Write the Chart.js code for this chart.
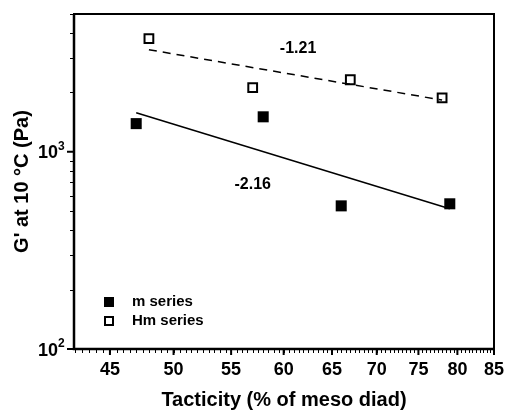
<!DOCTYPE html>
<html>
<head>
<meta charset="utf-8">
<script src="https://cdn.jsdelivr.net/npm/chart.js@4.4.1/dist/chart.umd.min.js"></script>
<style>
  body { margin: 0; background: #fff; }
  #wrap { width: 505px; height: 412px; }
</style>
</head>
<body>
<div id="wrap"><canvas id="modulus-chart"></canvas></div>
<script>
// storage modulus at 10 °C vs tacticity, two sample series
const mTacticity = [47, 58, 66, 79];
const mModulus = [1390, 1505, 532, 545];
const hmTacticity = [48, 57, 67, 78];
const hmModulus = [3750, 2115, 2320, 1880];

// power-law fits (log-log), end points
const mFitX = [47, 79];
const mFitY = [1578, 514];
const hmFitX = [48, 78];
const hmFitY = [3294, 1830];

// slope labels: [text, x, y]
const slopeLabels = [['-2.16', 57, 680], ['-1.21', 61.45, 3333]];

const xTicks = [45, 50, 55, 60, 65, 70, 75, 80, 85];
const yTicks = [100, 1000];
const yTickBase = ['10', '10'];
const yTickExp = ['2', '3'];
const yMinorTicks = [200, 300, 400, 500, 600, 700, 800, 900, 2000, 3000, 4000, 5000];

const FONT = "'Liberation Sans', Arial, sans-serif";
Chart.defaults.font.family = FONT;
Chart.defaults.font.weight = 'bold';
Chart.defaults.color = '#000';

const toPoints = (xs, ys) => xs.map((x, i) => ({ x: x, y: ys[i] }));

// frame, tick marks, power-of-ten labels, slope text and the inset legend
const decorations = {
  id: 'decorations',
  afterDraw(chart) {
    const ctx = chart.ctx;
    const a = chart.chartArea;
    const xs = chart.scales.x;
    const ys = chart.scales.y;
    ctx.save();
    ctx.strokeStyle = '#000';
    ctx.lineWidth = 2;
    ctx.strokeRect(a.left, a.top, a.right - a.left, a.bottom - a.top);
    ctx.lineWidth = 2.5;
    ctx.beginPath();
    ctx.moveTo(a.left, a.top);
    ctx.lineTo(a.left, a.bottom);
    ctx.lineTo(a.right, a.bottom);
    ctx.stroke();

    // x minor ticks every half unit
    ctx.lineWidth = 1;
    ctx.beginPath();
    for (let v = 42.5; v <= 85; v += 0.5) {
      const px = Math.round(xs.getPixelForValue(v)) + 0.5;
      ctx.moveTo(px, a.bottom);
      ctx.lineTo(px, a.bottom + 4);
    }
    yMinorTicks.forEach(v => {
      const py = Math.round(ys.getPixelForValue(v)) + 0.5;
      ctx.moveTo(a.left, py);
      ctx.lineTo(a.left - 4, py);
    });
    ctx.stroke();

    ctx.lineWidth = 2;
    ctx.beginPath();
    xTicks.forEach(v => {
      const px = xs.getPixelForValue(v);
      ctx.moveTo(px, a.bottom);
      ctx.lineTo(px, a.bottom + 6);
    });
    yTicks.forEach(v => {
      const py = ys.getPixelForValue(v);
      ctx.moveTo(a.left, py);
      ctx.lineTo(a.left - 7, py);
    });
    ctx.stroke();

    ctx.fillStyle = '#000';
    ctx.textBaseline = 'alphabetic';
    yTicks.forEach((v, i) => {
      const py = ys.getPixelForValue(v);
      ctx.textAlign = 'right';
      ctx.font = 'bold 18px ' + FONT;
      ctx.fillText(yTickBase[i], a.left - 16, py + 6.5);
      ctx.textAlign = 'left';
      ctx.font = 'bold 12px ' + FONT;
      ctx.fillText(yTickExp[i], a.left - 16, py - 2);
    });

    ctx.font = 'bold 16px ' + FONT;
    ctx.textAlign = 'center';
    ctx.textBaseline = 'middle';
    slopeLabels.forEach(([t, x, y]) => {
      ctx.fillText(t, xs.getPixelForValue(x), ys.getPixelForValue(y));
    });

    // legend
    const lx = a.left + 35;
    const ly = a.bottom - 47;
    ctx.fillRect(lx - 5, ly - 5, 10, 10);
    ctx.lineWidth = 2;
    ctx.strokeRect(lx - 4, ly + 15, 8, 8);
    ctx.font = 'bold 15px ' + FONT;
    ctx.textAlign = 'left';
    ctx.fillText('m series', lx + 23, ly);
    ctx.fillText('Hm series', lx + 23, ly + 19);
    ctx.restore();
  }
};

new Chart(document.getElementById('modulus-chart'), {
  type: 'scatter',
  data: {
    datasets: [
      {
        label: 'm series',
        data: toPoints(mTacticity, mModulus),
        pointStyle: 'rect',
        pointRadius: 7.8,
        backgroundColor: '#000',
        borderColor: '#000',
        borderWidth: 0
      },
      {
        label: 'Hm series',
        data: toPoints(hmTacticity, hmModulus),
        pointStyle: 'rect',
        pointRadius: 6.2,
        backgroundColor: 'rgba(255,255,255,0)',
        borderColor: '#000',
        borderWidth: 2
      },
      {
        label: 'm fit',
        data: toPoints(mFitX, mFitY),
        showLine: true,
        pointRadius: 0,
        borderColor: '#000',
        borderWidth: 1.5
      },
      {
        label: 'Hm fit',
        data: toPoints(hmFitX, hmFitY),
        showLine: true,
        pointRadius: 0,
        borderColor: '#000',
        borderWidth: 1.5,
        borderDash: [8, 6]
      }
    ]
  },
  options: {
    responsive: true,
    maintainAspectRatio: false,
    animation: false,
    events: [],
    layout: { padding: { left: 0, right: 11, top: 14, bottom: 0 } },
    plugins: { legend: { display: false }, tooltip: { enabled: false } },
    scales: {
      x: {
        type: 'logarithmic',
        min: 42.4,
        max: 85,
        grid: { display: false, drawTicks: false },
        border: { display: false },
        afterBuildTicks: s => { s.ticks = xTicks.map(v => ({ value: v })); },
        afterFit: s => { s.height = 63; s.paddingLeft = 0; s.paddingRight = 0; },
        ticks: {
          autoSkip: false,
          maxRotation: 0,
          padding: 10,
          font: { size: 18, weight: 'bold' },
          callback: v => String(v)
        },
        title: {
          display: true,
          text: 'Tacticity (% of meso diad)',
          font: { size: 20, weight: 'bold' },
          padding: { top: 0, bottom: 0 }
        }
      },
      y: {
        type: 'logarithmic',
        min: 100,
        max: 5000,
        grid: { display: false, drawTicks: false },
        border: { display: false },
        afterBuildTicks: s => { s.ticks = yTicks.map(v => ({ value: v })); },
        afterFit: s => { s.width = 74; s.paddingTop = 0; s.paddingBottom = 0; },
        ticks: { display: false },
        title: {
          display: true,
          text: "G' at 10 °C (Pa)",
          font: { size: 20, weight: 'bold' },
          padding: { top: 10, bottom: 0 }
        }
      }
    }
  },
  plugins: [decorations]
});
</script>
</body>
</html>
